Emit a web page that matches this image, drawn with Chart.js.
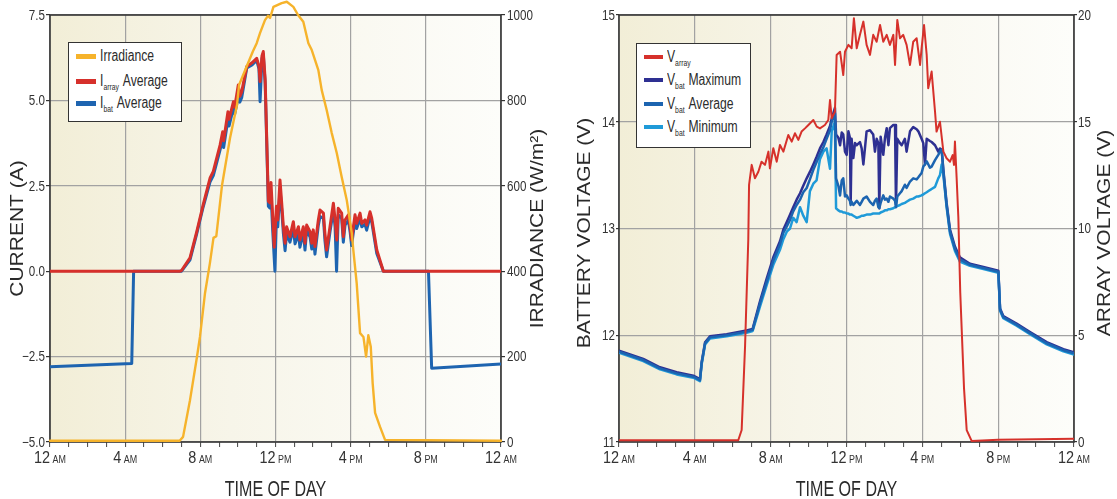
<!DOCTYPE html>
<html>
<head>
<meta charset="utf-8">
<script src="https://cdn.jsdelivr.net/npm/chart.js@4.4.1/dist/chart.umd.min.js"></script>
<style>
  html, body { margin: 0; padding: 0; background: #ffffff; }
  #wrap { position: relative; width: 1117px; height: 499px; overflow: hidden; }
  canvas { position: absolute; top: 0; }
  .legend { position: absolute; background: #ffffff; border: 1.5px solid #333; box-sizing: border-box;
            font-family: 'Liberation Sans', Arial, sans-serif; font-size: 16px; color: #2b2b2b; }
  .row { position: absolute; left: 0; height: 18px; line-height: 18px; white-space: nowrap; }
  .sw { position: absolute; top: 7px; width: 20px; height: 4px; }
  .tx { position: absolute; top: 0; transform: scaleX(0.76); transform-origin: 0 0; }
  .sub { font-size: 9px; position: relative; top: 4px; margin-right: 5px; }
</style>
</head>
<body>
<div id="wrap">
  <canvas id="currentChart" width="560" height="499" style="left:0"></canvas>
  <canvas id="voltageChart" width="557" height="499" style="left:560px"></canvas>

  <div class="legend" style="left:68px;top:42px;width:114px;height:80px">
    <div class="row" style="top:3.5px"><span class="sw" style="left:6.5px;background:#f6b32b;height:5px"></span><span class="tx" style="left:30.5px">Irradiance</span></div>
    <div class="row" style="top:28.5px"><span class="sw" style="left:6.5px;background:#d6302b;height:5px"></span><span class="tx" style="left:30.5px">I<span class="sub">array</span>Average</span></div>
    <div class="row" style="top:50.5px"><span class="sw" style="left:6.5px;background:#1e64b0;height:5px"></span><span class="tx" style="left:30.5px">I<span class="sub">bat</span>Average</span></div>
  </div>

  <div class="legend" style="left:636px;top:43px;width:115px;height:105px">
    <div class="row" style="top:3.5px"><span class="sw" style="left:6.5px;width:19px;background:#d6312b"></span><span class="tx" style="left:29.5px">V<span class="sub">array</span></span></div>
    <div class="row" style="top:26.5px"><span class="sw" style="left:6.5px;width:19px;background:#2e3092"></span><span class="tx" style="left:29.5px">V<span class="sub">bat</span>Maximum</span></div>
    <div class="row" style="top:50.5px"><span class="sw" style="left:6.5px;width:19px;background:#1c64b0"></span><span class="tx" style="left:29.5px">V<span class="sub">bat</span>Average</span></div>
    <div class="row" style="top:73.5px"><span class="sw" style="left:6.5px;width:19px;background:#1f9ad8"></span><span class="tx" style="left:29.5px">V<span class="sub">bat</span>Minimum</span></div>
  </div>
</div>

<script>
// ---------- time axis ----------
const hourTicks = [0,1,2,3,4,5,6,7,8,9,10,11,12,13,14,15,16,17,18,19,20,21,22,23,24];
const labelHours = [0, 4, 8, 12, 16, 20, 24];
const labelNumbers = ['12', '4', '8', '12', '4', '8', '12'];
const labelSuffixes = ['AM', 'AM', 'AM', 'PM', 'PM', 'PM', 'AM'];

// ---------- current / irradiance ----------
const currentTicks = [-5, -2.5, 0, 2.5, 5, 7.5];
const currentTickLabels = ['\u22125.0', '\u22122.5', '0.0', '2.5', '5.0', '7.5'];
const irradianceTicks = [0, 200, 400, 600, 800, 1000];
const irradianceTickLabels = ['0', '200', '400', '600', '800', '1000'];

const irrHours = [0, 6.9, 7.08, 7.45, 7.82, 7.98, 8.25, 8.51, 8.7, 8.85, 9.15, 9.58, 9.95, 10.06, 10.47, 10.8, 11.0, 11.18, 11.44, 11.6, 11.71, 11.89, 12.33, 12.6, 12.95, 13.2, 13.48, 13.75, 13.93, 14.28, 14.46, 14.72, 14.99, 15.26, 15.52, 15.79, 16.06, 16.14, 16.32, 16.5, 16.68, 16.82, 16.94, 17.07, 17.17, 17.3, 17.56, 17.83, 24];
const irrValues = [3, 3, 12, 98, 199, 246, 349, 419, 478, 482, 600, 712, 789, 836, 880, 915, 934, 958, 988, 998, 993, 1019, 1028, 1031, 1019, 1000, 984, 934, 918, 871, 824, 778, 724, 677, 621, 567, 489, 450, 372, 255, 246, 200, 250, 223, 138, 68, 36, 5, 3];

const iArrayHours = [0, 6.92, 7.0, 7.45, 7.81, 8.15, 8.52, 8.69, 9.05, 9.19, 9.24, 9.47, 9.53, 9.76, 9.83, 10.02, 10.1, 10.2, 10.47, 10.75, 11.0, 11.12, 11.18, 11.28, 11.35, 11.45, 11.62, 11.70, 11.76, 11.85, 11.93, 12.05, 12.12, 12.24, 12.33, 12.42, 12.51, 12.59, 12.77, 12.95, 13.04, 13.22, 13.30, 13.48, 13.57, 13.66, 13.84, 13.93, 14.01, 14.10, 14.28, 14.37, 14.55, 14.63, 14.72, 14.90, 15.08, 15.17, 15.26, 15.34, 15.52, 15.61, 15.70, 15.88, 15.97, 16.05, 16.23, 16.32, 16.50, 16.59, 16.76, 16.85, 17.03, 17.12, 17.39, 17.74, 24];
const iArrayValues = [0, 0, 0.02, 0.39, 1.16, 1.94, 2.73, 2.92, 3.69, 4.08, 3.82, 4.67, 4.45, 4.96, 4.8, 5.45, 5.12, 5.25, 5.99, 6.1, 6.23, 6.0, 5.55, 6.3, 6.43, 5.6, 2.05, 2.0, 2.6, 1.6, 0.7, 1.9, 1.5, 2.67, 1.99, 1.30, 0.82, 1.30, 1.01, 1.45, 1.01, 1.30, 0.91, 1.30, 0.82, 1.35, 1.16, 0.82, 1.21, 0.72, 1.50, 1.79, 1.70, 1.11, 0.62, 1.30, 1.99, 1.50, 0.91, 1.84, 1.70, 1.01, 1.50, 1.65, 1.30, 0.91, 1.65, 1.40, 1.70, 1.40, 1.50, 1.35, 1.74, 1.55, 0.62, 0, 0];

const iBatHours = [0, 4.35, 4.45, 6.92, 7.0, 7.45, 7.81, 8.15, 8.52, 8.69, 9.05, 9.19, 9.24, 9.47, 9.53, 9.76, 9.83, 10.02, 10.1, 10.2, 10.47, 10.75, 11.0, 11.12, 11.18, 11.28, 11.35, 11.45, 11.62, 11.70, 11.76, 11.85, 11.97, 12.05, 12.12, 12.24, 12.33, 12.42, 12.51, 12.59, 12.77, 12.95, 13.04, 13.22, 13.30, 13.48, 13.57, 13.66, 13.84, 13.93, 14.01, 14.10, 14.28, 14.37, 14.55, 14.63, 14.72, 14.90, 15.08, 15.17, 15.25, 15.34, 15.52, 15.61, 15.70, 15.88, 15.97, 16.05, 16.23, 16.32, 16.50, 16.59, 16.76, 16.85, 17.03, 17.12, 17.39, 17.74, 20.14, 20.31, 24];
const iBatValues = [-2.8, -2.7, 0, 0, 0, 0.33, 1.1, 1.88, 2.62, 2.8, 3.55, 3.9, 3.62, 4.45, 4.25, 4.78, 4.6, 5.1, 4.95, 5.08, 5.95, 6.04, 6.17, 5.92, 4.96, 6.22, 6.35, 5.5, 1.9, 1.85, 2.3, 1.2, 0.0, 1.6, 1.3, 2.4, 1.8, 1.1, 0.6, 1.1, 0.85, 1.25, 0.8, 1.1, 0.7, 1.15, 0.62, 1.2, 1.0, 0.65, 1.05, 0.5, 1.35, 1.6, 1.55, 0.9, 0.42, 1.15, 1.8, 1.3, 0.0, 1.65, 1.55, 0.85, 1.35, 1.5, 1.15, 0.75, 1.5, 1.25, 1.55, 1.3, 1.38, 1.2, 1.6, 1.45, 0.52, 0, 0, -2.84, -2.72];

// ---------- battery / array voltage ----------
const batteryTicks = [11, 12, 13, 14, 15];
const batteryTickLabels = ['11', '12', '13', '14', '15'];
const arrayTicks = [0, 5, 10, 15, 20];
const arrayTickLabels = ['0', '5', '10', '15', '20'];

const vArrayHours = [0, 6.29, 6.47, 6.65, 6.82, 6.86, 7.0, 7.17, 7.35, 7.52, 7.70, 7.88, 7.96, 8.14, 8.32, 8.49, 8.67, 8.93, 9.11, 9.28, 9.46, 9.63, 9.81, 9.99, 10.25, 10.43, 10.60, 10.86, 11.04, 11.13, 11.22, 11.39, 11.48, 11.66, 11.83, 11.92, 12.1, 12.27, 12.39, 12.54, 12.71, 12.89, 13.06, 13.24, 13.41, 13.59, 13.77, 13.94, 14.12, 14.29, 14.47, 14.56, 14.68, 14.82, 14.99, 15.17, 15.35, 15.52, 15.70, 15.88, 15.96, 16.09, 16.23, 16.31, 16.49, 16.67, 16.75, 16.93, 17.11, 17.28, 17.46, 17.60, 17.67, 17.72, 17.81, 17.9, 18.0, 18.2, 18.34, 18.6, 20, 24];
const vArrayValues = [0.08, 0.08, 0.56, 4.5, 9.5, 12.04, 12.98, 12.35, 12.66, 13.13, 12.98, 13.6, 12.82, 13.76, 13.13, 13.91, 13.6, 14.38, 14.07, 14.46, 14.15, 14.54, 14.69, 14.85, 15.08, 14.77, 14.69, 14.85, 15.08, 16.02, 15.16, 15.47, 18.13, 18.28, 17.19, 18.28, 18.6, 18.44, 19.85, 18.44, 19.07, 19.69, 18.6, 18.13, 19.07, 18.75, 19.53, 18.75, 19.07, 18.6, 19.07, 17.66, 19.77, 18.91, 19.07, 18.6, 17.66, 18.75, 18.91, 17.66, 18.44, 19.53, 18.13, 16.57, 17.35, 15.47, 14.54, 15.0, 13.6, 13.29, 13.13, 13.44, 12.98, 14.07, 12.35, 10.5, 7.0, 2.5, 0.56, 0.05, 0.1, 0.15];

const batHours = [0, 1.28, 2.16, 3.04, 3.92, 4.27, 4.36, 4.54, 4.8, 5.68, 6.73, 7.05, 7.44, 7.79, 8.14, 8.49, 8.67, 8.85, 9.02, 9.19, 9.37, 9.55, 9.72, 9.90, 10.07, 10.25, 10.42, 10.60, 10.78, 10.95, 11.13, 11.22, 11.39, 11.45, 11.57,
  11.66, 11.75, 11.83, 11.92, 12.01, 12.10, 12.18, 12.22, 12.27, 12.36, 12.45, 12.54, 12.71, 12.80, 12.89, 13.06, 13.24, 13.41, 13.50, 13.59, 13.68, 13.73, 13.80, 13.94, 14.03, 14.12, 14.21, 14.29, 14.47, 14.56, 14.61, 14.68, 14.82, 14.91, 15.08, 15.17, 15.35, 15.52, 15.70, 15.79, 15.96, 16.05, 16.14, 16.23, 16.40, 16.49, 16.67, 16.84, 16.93, 17.02,
  17.11, 17.28, 17.46, 17.72, 17.98, 18.51, 19.22, 20.01, 20.10, 20.27, 20.97, 21.68, 22.56, 23.44, 24];
const vBatMax = [11.855, 11.778, 11.70, 11.653, 11.622, 11.59, 11.747, 11.934, 11.99, 12.01, 12.044, 12.06, 12.32, 12.53, 12.73, 12.88, 12.99, 13.06, 13.13, 13.20, 13.27, 13.33, 13.40, 13.47, 13.53, 13.60, 13.67, 13.75, 13.81, 13.88, 13.96, 14.03, 14.13, 13.88, 13.85,
  13.78, 13.90, 13.88, 13.72, 13.69, 13.91, 13.85, 13.24, 13.84, 13.66, 13.80, 13.78, 13.81, 13.75, 13.60, 13.91, 13.92, 13.88, 13.72, 13.84, 13.80, 13.19, 13.86, 13.69, 13.85, 13.94, 13.78, 13.94, 13.97, 13.97, 13.22, 13.84, 13.80, 13.78, 13.84, 13.72, 13.91, 13.95, 13.93, 13.91, 13.84, 13.80, 13.60, 13.84, 13.82, 13.81, 13.78, 13.72, 13.75, 13.74,
  13.55, 13.24, 12.99, 12.83, 12.73, 12.67, 12.64, 12.605, 12.25, 12.18, 12.11, 12.03, 11.935, 11.87, 11.84];
const vBatAvg = [11.846, 11.768, 11.69, 11.643, 11.612, 11.58, 11.737, 11.924, 11.98, 12.0, 12.034, 12.05, 12.30, 12.50, 12.70, 12.85, 12.96, 13.02, 13.08, 13.16, 13.22, 13.27, 13.34, 13.38, 13.46, 13.55, 13.62, 13.70, 13.76, 13.84, 13.92, 14.00, 14.08, 13.47, 13.40,
  13.31, 13.45, 13.47, 13.30, 13.31, 13.28, 13.26, 13.22, 13.25, 13.22, 13.24, 13.26, 13.22, 13.25, 13.28, 13.30, 13.25, 13.22, 13.26, 13.28, 13.20, 13.19, 13.24, 13.31, 13.27, 13.28, 13.25, 13.30, 13.28, 13.26, 13.20, 13.30, 13.33, 13.35, 13.41, 13.38, 13.44, 13.47, 13.46, 13.48, 13.52, 13.58, 13.60, 13.63, 13.57, 13.58, 13.64, 13.69, 13.72, 13.74,
  13.53, 13.22, 12.97, 12.81, 12.71, 12.66, 12.63, 12.595, 12.24, 12.17, 12.10, 12.02, 11.925, 11.86, 11.83];
const vBatMin = [11.836, 11.758, 11.68, 11.633, 11.602, 11.57, 11.727, 11.914, 11.97, 11.99, 12.024, 12.04, 12.27, 12.47, 12.66, 12.80, 12.90, 12.97, 13.00, 13.10, 13.06, 13.20, 13.12, 13.06, 13.35, 13.42, 13.45, 13.65, 13.72, 13.75, 13.56, 13.91, 14.00, 13.19, 13.17,
  13.16, 13.16, 13.15, 13.15, 13.14, 13.14, 13.13, 13.13, 13.13, 13.12, 13.11, 13.10, 13.11, 13.12, 13.12, 13.13, 13.13, 13.14, 13.14, 13.14, 13.14, 13.14, 13.15, 13.16, 13.17, 13.17, 13.18, 13.18, 13.19, 13.20, 13.20, 13.21, 13.22, 13.23, 13.24, 13.25, 13.27, 13.28, 13.30, 13.30, 13.31, 13.32, 13.33, 13.34, 13.36, 13.37, 13.39, 13.47, 13.50, 13.60,
  13.50, 13.20, 12.95, 12.79, 12.69, 12.65, 12.62, 12.585, 12.23, 12.16, 12.09, 12.01, 11.915, 11.85, 11.82];

// ---------- drawing helpers ----------
const FONT = "'Liberation Sans', Arial, sans-serif";
const GRID = '#a2a2a2';

function toPoints(hours, values) {
  return hours.map((h, i) => ({ x: h, y: values[i] }));
}
function fixedTicks(list) {
  return (scale) => { scale.ticks = list.map(v => ({ value: v })); };
}
// condensed text: draws with a horizontal squeeze around the anchor point
function squeezedText(ctx, text, x, y, size, k, align, baseline) {
  ctx.save();
  ctx.translate(x, y);
  ctx.scale(k, 1);
  ctx.font = size + 'px ' + FONT;
  ctx.textAlign = align;
  ctx.textBaseline = baseline;
  ctx.fillText(text, 0, 0);
  ctx.restore();
}

// cream plot background and dark frame around the plot area
const plotFrame = {
  id: 'plotFrame',
  beforeDraw(chart) {
    const { ctx, chartArea: a } = chart;
    const g = ctx.createLinearGradient(a.left, 0, a.right, 0);
    g.addColorStop(0, '#f2eed7');
    g.addColorStop(0.4, '#f7f5e9');
    g.addColorStop(1, '#fdfdfa');
    ctx.save();
    ctx.fillStyle = g;
    ctx.fillRect(a.left, a.top, a.right - a.left, a.bottom - a.top);
    ctx.restore();
  },
  beforeDatasetsDraw(chart) {
    const { ctx, chartArea: a } = chart;
    ctx.save();
    ctx.strokeStyle = '#363636';
    ctx.lineWidth = 1.6;
    ctx.strokeRect(a.left, a.top, a.right - a.left, a.bottom - a.top);
    ctx.restore();
  }
};

// tick labels, hour labels with small AM/PM, axis titles (side titles read bottom-to-top)
const axisText = {
  id: 'axisText',
  afterDraw(chart, args, opts) {
    const { ctx, chartArea: a } = chart;
    const xs = chart.scales.x, yl = chart.scales.y, yr = chart.scales.y2;
    ctx.save();
    ctx.fillStyle = '#333';

    opts.leftTicks.forEach((v, i) => {
      squeezedText(ctx, opts.leftLabels[i], a.left - opts.leftGap, yl.getPixelForValue(v) + 1, 14, 0.83, 'right', 'middle');
    });
    opts.rightTicks.forEach((v, i) => {
      squeezedText(ctx, opts.rightLabels[i], a.right + opts.rightGap, yr.getPixelForValue(v) + 1, 14, 0.83, 'left', 'middle');
    });

    labelHours.forEach((h, i) => {
      const px = xs.getPixelForValue(h);
      const k = 0.85, gap = 2.5;
      ctx.font = '17px ' + FONT;
      const w1 = ctx.measureText(labelNumbers[i]).width * k;
      ctx.font = '10.5px ' + FONT;
      const w2 = ctx.measureText(labelSuffixes[i]).width * k;
      const x0 = px - (w1 + gap + w2) / 2;
      squeezedText(ctx, labelNumbers[i], x0, a.bottom + 21, 17, k, 'left', 'alphabetic');
      squeezedText(ctx, labelSuffixes[i], x0 + w1 + gap, a.bottom + 21, 10.5, k, 'left', 'alphabetic');
    });

    ctx.fillStyle = '#2a2a2a';
    squeezedText(ctx, opts.xTitle, (a.left + a.right) / 2, 496, 22, 0.73, 'center', 'alphabetic');

    const vertical = (text, cx, cy) => {
      ctx.save();
      ctx.translate(cx, cy);
      ctx.rotate(-Math.PI / 2);
      ctx.scale(1, 0.85);
      ctx.font = '21px ' + FONT;
      ctx.textAlign = 'center';
      ctx.textBaseline = 'middle';
      ctx.fillText(text, 0, 0);
      ctx.restore();
    };
    vertical(opts.leftTitle, opts.leftX, opts.titleY);
    vertical(opts.rightTitle, opts.rightX, opts.titleY);
    ctx.restore();
  }
};

function timeScale(height) {
  return {
    type: 'linear', min: 0, max: 24,
    afterBuildTicks: fixedTicks(hourTicks),
    afterFit(s) { s.height = height; },
    ticks: { display: false },
    border: { display: false },
    grid: {
      color: (c) => (c.tick && c.tick.value % 4 === 0) ? GRID : 'rgba(0,0,0,0)',
      lineWidth: 1.2,
      tickColor: '#444',
      tickLength: 5,
      tickWidth: 1
    }
  };
}

function valueScale(opts) {
  return {
    type: 'linear',
    position: opts.position,
    min: opts.min, max: opts.max,
    afterBuildTicks: fixedTicks(opts.ticks),
    afterFit(s) { s.width = opts.width; },
    border: { display: false },
    ticks: { display: false },
    grid: {
      drawOnChartArea: opts.onArea,
      color: GRID,
      lineWidth: 1.2,
      tickColor: '#333',
      tickLength: opts.tickLength
    }
  };
}

const commonOptions = {
  responsive: false,
  animation: false,
  devicePixelRatio: 1,
  events: [],
  layout: { padding: { top: 15, left: 0, right: 0, bottom: 0 } },
  elements: { point: { radius: 0 }, line: { tension: 0, borderJoinStyle: 'round', borderCapStyle: 'round' } }
};

// ---------- left chart: current and irradiance ----------
new Chart(document.getElementById('currentChart'), {
  type: 'line',
  data: {
    datasets: [
      { label: 'Irradiance', data: toPoints(irrHours, irrValues), yAxisID: 'y2',
        borderColor: '#f6b32b', borderWidth: 2.4, clip: false, order: 0 },
      { label: 'I array Average', data: toPoints(iArrayHours, iArrayValues), yAxisID: 'y',
        borderColor: '#d6302b', borderWidth: 3, order: 1 },
      { label: 'I bat Average', data: toPoints(iBatHours, iBatValues), yAxisID: 'y',
        borderColor: '#1e64b0', borderWidth: 3, order: 2 }
    ]
  },
  options: Object.assign({}, commonOptions, {
    scales: {
      x: timeScale(57),
      y: valueScale({ position: 'left', min: -5, max: 7.5, ticks: currentTicks, width: 50, tickLength: 4, onArea: true }),
      y2: valueScale({ position: 'right', min: 0, max: 1000, ticks: irradianceTicks, width: 59, tickLength: 4, onArea: false })
    },
    plugins: {
      legend: { display: false },
      tooltip: { enabled: false },
      axisText: { xTitle: 'TIME OF DAY', leftTitle: 'CURRENT (A)', rightTitle: 'IRRADIANCE (W/m\u00B2)',
                  leftX: 18, rightX: 538, titleY: 228.5,
                  leftTicks: currentTicks, leftLabels: currentTickLabels, leftGap: 5,
                  rightTicks: irradianceTicks, rightLabels: irradianceTickLabels, rightGap: 6 }
    }
  }),
  plugins: [plotFrame, axisText]
});

// ---------- right chart: battery and array voltage ----------
new Chart(document.getElementById('voltageChart'), {
  type: 'line',
  data: {
    datasets: [
      { label: 'V array', data: toPoints(vArrayHours, vArrayValues), yAxisID: 'y2',
        borderColor: '#d6312b', borderWidth: 2, order: 0 },
      { label: 'V bat Maximum', data: toPoints(batHours, vBatMax), yAxisID: 'y',
        borderColor: '#2e3092', borderWidth: 2.5, order: 3 },
      { label: 'V bat Average', data: toPoints(batHours, vBatAvg), yAxisID: 'y',
        borderColor: '#1c64b0', borderWidth: 2.5, order: 1 },
      { label: 'V bat Minimum', data: toPoints(batHours, vBatMin), yAxisID: 'y',
        borderColor: '#1f9ad8', borderWidth: 2.5, order: 2 }
    ]
  },
  options: Object.assign({}, commonOptions, {
    scales: {
      x: timeScale(57),
      y: valueScale({ position: 'left', min: 11, max: 15, ticks: batteryTicks, width: 59, tickLength: 3, onArea: true }),
      y2: valueScale({ position: 'right', min: 0, max: 20, ticks: arrayTicks, width: 43, tickLength: 3, onArea: false })
    },
    plugins: {
      legend: { display: false },
      tooltip: { enabled: false },
      axisText: { xTitle: 'TIME OF DAY', leftTitle: 'BATTERY VOLTAGE (V)', rightTitle: 'ARRAY VOLTAGE (V)',
                  leftX: 25.5, rightX: 545, titleY: 233,
                  leftTicks: batteryTicks, leftLabels: batteryTickLabels, leftGap: 4,
                  rightTicks: arrayTicks, rightLabels: arrayTickLabels, rightGap: 4 }
    }
  }),
  plugins: [plotFrame, axisText]
});
</script>
</body>
</html>
